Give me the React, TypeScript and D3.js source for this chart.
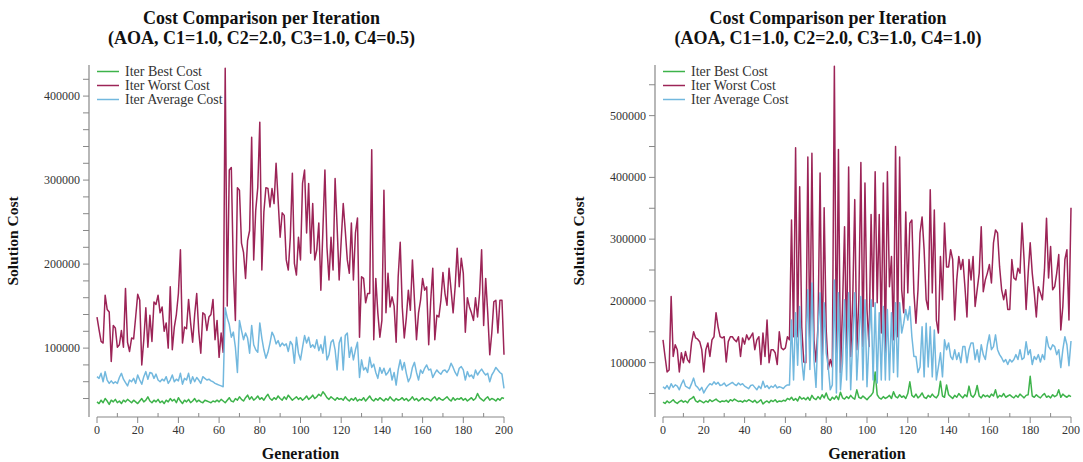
import React from 'react';
import * as d3 from 'd3';

// ---------------- DATA (values in thousands) ----------------
const generationTicks = [0, 20, 40, 60, 80, 100, 120, 140, 160, 180, 200];

// Left panel: C4 = 0.5
const bestA = [
  36, 34, 38, 35, 40, 37, 33, 38, 36, 39,
  35, 37, 34, 38, 36, 39, 37, 35, 38, 36,
  34, 37, 40, 36, 38, 42, 37, 35, 38, 36,
  39, 35, 37, 34, 38, 36, 40, 37, 39, 35,
  41, 37, 34, 38, 36, 39, 35, 37, 40, 36,
  38, 36, 35, 38, 37, 36, 35, 37, 36, 38,
  36, 39, 37, 35, 38, 41, 37, 36, 40, 38,
  42, 39, 37, 41, 44, 39, 42, 38, 40, 43,
  39, 41, 38, 42, 45, 40, 38, 41, 39, 43,
  40, 38, 42, 39, 44, 41, 38, 40, 42, 39,
  41, 38, 40, 43, 39, 41, 44, 40, 42, 45,
  43, 48, 45, 41, 39, 42, 40, 38, 41, 39,
  40, 38, 42, 39, 37, 40, 38, 41, 37, 39,
  38, 41, 37, 40, 43, 39, 37, 40, 38, 41,
  39, 37, 40, 38, 42, 39, 37, 40, 38, 39,
  41, 38, 40, 37, 39, 42, 38, 40, 37, 39,
  41, 38, 40, 39, 37, 40, 42, 38, 41, 39,
  38, 40, 42, 39, 37, 41, 38, 40, 39, 41,
  38, 40, 37, 39, 41, 38, 40, 46, 41, 39,
  37, 40, 42, 38, 40, 39, 37, 40, 38, 41,
  40,
];
const worstA = [
  137, 122, 108, 106, 163, 146, 143, 84, 127, 124,
  101, 104, 121, 101, 171, 107, 96, 112, 111, 137,
  164, 157, 80, 110, 148, 101, 139, 108, 155, 152,
  163, 142, 149, 120, 130, 100, 173, 98, 125, 140,
  165, 217, 106, 125, 123, 158, 130, 107, 140, 165,
  120, 94, 142, 140, 121, 137, 140, 158, 110, 133,
  89, 118, 95, 433, 150, 312, 315, 193, 133, 291,
  288, 225, 214, 183, 228, 240, 351, 205, 264, 291,
  369, 193, 262, 291, 290, 268, 290, 272, 320, 276,
  232, 261, 258, 205, 193, 232, 308, 201, 187, 232,
  205, 296, 312, 237, 296, 213, 272, 205, 217, 249,
  169, 240, 312, 220, 181, 232, 193, 302, 244, 181,
  228, 272, 240, 205, 189, 249, 181, 237, 255, 113,
  185, 183, 154, 165, 165, 336, 110, 183, 142, 113,
  133, 288, 142, 189, 149, 161, 150, 107, 185, 226,
  149, 112, 136, 169, 145, 205, 157, 110, 142, 157,
  183, 169, 173, 104, 157, 195, 110, 139, 137, 157,
  190, 165, 151, 195, 169, 142, 173, 219, 173, 207,
  189, 119, 160, 149, 142, 133, 160, 137, 165, 217,
  127, 183, 142, 92, 118, 155, 157, 118, 157, 157,
  92,
];
const avgA = [
  66, 64, 70, 60, 72, 62, 58, 61, 58, 60,
  58, 65, 70, 63, 59, 55, 62, 60, 64, 58,
  68, 62, 57, 66, 72, 63, 71, 70, 64, 69,
  62, 60, 63, 61, 66, 58, 62, 68, 60, 63,
  61, 70, 57, 64, 62, 70, 58, 66, 60, 65,
  62, 58, 66, 64, 62, 63, 61, 60, 58, 57,
  56, 55, 54, 148, 136, 128, 113, 119, 101, 71,
  133, 121, 110, 118, 112, 94, 127, 104, 98, 95,
  130, 112, 98, 88, 95, 106, 119, 114, 105, 109,
  102, 106, 103, 105, 96, 108, 104, 82, 113, 94,
  86, 101, 115, 106, 113, 101, 104, 100, 110, 97,
  104, 94, 114, 86, 92, 107, 110, 98, 74, 106,
  113, 74, 115, 118, 89, 101, 86, 98, 107, 65,
  86, 74, 77, 71, 89, 77, 81, 71, 64, 77,
  70, 76, 68, 71, 76, 62, 71, 56, 74, 86,
  74, 83, 70, 60, 65, 77, 83, 71, 62, 74,
  70, 76, 80, 74, 75, 65, 70, 74, 71, 69,
  73, 74, 71, 75, 82, 77, 71, 67, 76, 78,
  74, 62, 72, 66, 68, 64, 74, 68, 72, 75,
  71, 68, 70, 60, 68, 72, 77, 74, 71, 69,
  52,
];

// Right panel: C4 = 1.0
const bestB = [
  36, 34, 38, 35, 37, 40, 36, 34, 37, 39,
  36, 38, 35, 40, 42, 45, 38, 36, 39, 37,
  35, 38, 36, 40, 37, 39, 41, 38, 36, 38,
  37, 39, 36, 40, 38, 41, 39, 37, 38, 36,
  39, 37, 40, 38, 36, 39, 35, 37, 40, 33,
  36, 38, 35, 39, 37, 40, 36, 38, 37, 39,
  38, 42, 40, 44, 39, 42, 38, 45, 41, 43,
  40, 44, 39, 47, 42, 40, 45, 41, 48, 43,
  51, 42, 39, 44, 41, 46, 40, 52, 43, 41,
  45, 42, 47, 43, 41, 56, 44, 42, 46, 43,
  40, 44, 47, 52, 85, 48, 43, 41, 45, 42,
  44, 47, 42, 53, 45, 43, 48, 44, 46, 42,
  50, 69, 47, 44, 49, 43, 46, 51, 44, 42,
  47, 44, 49, 45, 43, 48, 70, 46, 44, 64,
  48, 45, 42, 47, 44, 50, 46, 43, 48, 45,
  62, 47, 44, 49, 63, 46, 43, 48, 45, 47,
  44, 49, 46, 56, 43, 47, 45, 50, 44, 46,
  48, 45, 43, 47, 44, 49, 46, 43, 47, 48,
  78, 46, 44, 48, 45, 43, 47, 50, 44, 46,
  43, 48, 45, 47, 56, 44, 49, 46, 44, 47,
  45,
];
const worstB = [
  137, 110, 85, 88, 207, 110, 129, 121, 85, 116,
  100, 118, 105, 100, 132, 150, 140, 138, 134, 121,
  85, 121, 132, 110, 137, 142, 181, 158, 142, 140,
  142, 101, 134, 142, 142, 137, 134, 142, 110, 140,
  130, 145, 137, 142, 148, 121, 137, 142, 97, 148,
  110, 169, 100, 121, 121, 116, 97, 150, 124, 121,
  124, 142, 137, 331, 142, 448, 142, 385, 158, 101,
  100, 433, 116, 439, 137, 101, 161, 407, 100, 351,
  153, 89, 105, 93, 580, 105, 445, 84, 191, 320,
  121, 417, 110, 202, 364, 121, 202, 424, 126, 391,
  186, 126, 340, 191, 409, 197, 340, 148, 391, 110,
  409, 223, 272, 137, 450, 142, 433, 218, 181, 344,
  213, 326, 331, 213, 164, 218, 310, 336, 283, 202,
  186, 380, 213, 347, 169, 148, 272, 202, 326, 255,
  255, 283, 267, 169, 234, 272, 251, 267, 223, 174,
  267, 234, 272, 191, 218, 245, 320, 215, 234, 245,
  259, 229, 294, 315, 310, 255, 218, 202, 218, 186,
  186, 267, 237, 234, 253, 245, 326, 267, 186, 245,
  294, 245, 213, 174, 223, 213, 202, 251, 334, 237,
  288, 218, 223, 245, 275, 153, 191, 267, 283, 169,
  351,
];
const avgB = [
  61, 58, 63, 57, 66, 60, 64, 62, 56, 65,
  72, 62, 60, 58, 66, 75, 63, 60, 55, 60,
  51, 57, 62, 66, 64, 69, 65, 68, 63, 64,
  67, 62, 64, 66, 68, 65, 63, 67, 64, 66,
  62, 60, 58, 63, 64, 60, 56, 62, 58, 70,
  60, 63, 58, 62, 60, 64, 59, 61, 60, 58,
  62, 64, 64, 169, 72, 181, 96, 191, 105, 72,
  116, 218, 89, 229, 105, 60, 153, 213, 56, 197,
  116, 93, 56, 64, 234, 51, 213, 56, 100, 202,
  72, 213, 56, 137, 213, 72, 137, 207, 72, 202,
  61, 137, 202, 72, 197, 67, 181, 72, 191, 72,
  186, 72, 181, 84, 197, 77, 197, 148, 164, 186,
  169, 191, 142, 110, 110, 84, 93, 158, 77, 164,
  93, 158, 77, 153, 72, 93, 116, 77, 137, 121,
  132, 110, 105, 121, 105, 116, 100, 126, 126, 100,
  121, 132, 132, 105, 121, 101, 129, 113, 105, 129,
  145, 121, 126, 145, 121, 113, 108, 101, 105, 97,
  105, 101, 105, 113, 105, 121, 105, 108, 134, 113,
  121, 97, 110, 105, 113, 101, 113, 105, 142, 126,
  121, 129, 126, 113, 121, 92, 121, 142, 129, 95,
  135,
];

const yMinorA = [40000, 60000, 80000, 100000, 120000, 140000, 160000, 180000, 200000, 220000, 240000, 260000, 280000, 300000, 320000, 340000, 360000, 380000, 400000, 420000];
const yLabelsA = [100000, 200000, 300000, 400000];
const yMinorB = [50000, 100000, 150000, 200000, 250000, 300000, 350000, 400000, 450000, 500000, 550000];
const yLabelsB = [100000, 200000, 300000, 400000, 500000];
const seriesNames = ['Iter Best Cost', 'Iter Worst Cost', 'Iter Average Cost'];

// ---------------- STYLE ----------------
const FONT = '"Liberation Serif", "Times New Roman", serif';
const COLORS = ['#3db34a', '#9c2457', '#72b8de'];
const AXIS = '#888';
const TXT = '#333';

type PanelProps = {
  x0: number; x1: number;
  yDomain: [number, number];
  title1: string; title2: string;
  best: number[]; worst: number[]; avg: number[];
  minor: number[]; labels: number[];
};

function Panel({ x0, x1, yDomain, title1, title2, best, worst, avg, minor, labels }: PanelProps) {
  const top = 65, bottom = 417;
  const xs = d3.scaleLinear().domain([0, 200]).range([x0, x1]);
  const ys = d3.scaleLinear().domain(yDomain).range([bottom, top]);
  const axisX = x0 - 8;
  const line = d3.line<number>().x((_, i) => xs(i)).y(d => ys(d * 1000));
  const xTicks = d3.range(0, 201, 10);
  const cx = (x0 + x1) / 2;
  const series = [best, worst, avg];
  return (
    <g>
      <text x={cx - 39} y={24} textAnchor="middle" fontFamily={FONT} fontWeight="bold" fontSize={18} fill="#111">{title1}</text>
      <text x={cx - 39} y={44} textAnchor="middle" fontFamily={FONT} fontWeight="bold" fontSize={18} fill="#111">{title2}</text>
      {/* y axis */}
      <line x1={axisX} x2={axisX} y1={top} y2={bottom} stroke={AXIS} strokeWidth={1.2} />
      {minor.map(v => (
        <line key={v} x1={axisX - 6} x2={axisX} y1={ys(v)} y2={ys(v)} stroke={AXIS} strokeWidth={1} />
      ))}
      {labels.map(v => (
        <text key={'l' + v} x={axisX - 9} y={ys(v) + 4} textAnchor="end" fontFamily={FONT} fontSize={12} fill={TXT}>{v}</text>
      ))}
      <text transform={`translate(${axisX - 71},${241}) rotate(-90)`} textAnchor="middle" fontFamily={FONT} fontWeight="bold" fontSize={15.5} fill="#111">Solution Cost</text>
      {/* x axis */}
      <line x1={x0} x2={x1} y1={bottom} y2={bottom} stroke={AXIS} strokeWidth={1.2} />
      {xTicks.map(t => (
        <line key={'x' + t} x1={xs(t)} x2={xs(t)} y1={bottom} y2={t % 20 === 0 ? bottom + 6 : bottom - 4} stroke={AXIS} strokeWidth={1} />
      ))}
      {generationTicks.map(t => (
        <text key={'xl' + t} x={xs(t)} y={434} textAnchor="middle" fontFamily={FONT} fontSize={12} fill={TXT}>{t}</text>
      ))}
      <text x={cx} y={459} textAnchor="middle" fontFamily={FONT} fontWeight="bold" fontSize={16} fill="#111">Generation</text>
      {/* series */}
      {series.map((s, i) => (
        <path key={'s' + i} d={line(s) || ''} fill="none" stroke={COLORS[i]} strokeWidth={1.5} strokeLinejoin="round" />
      ))}
      {/* legend */}
      {seriesNames.map((n, i) => (
        <g key={'lg' + i}>
          <line x1={x0} x2={x0 + 22} y1={71.5 + i * 14} y2={71.5 + i * 14} stroke={COLORS[i]} strokeWidth={1.5} />
          <text x={x0 + 28} y={76 + i * 14} fontFamily={FONT} fontSize={14} fill={TXT}>{n}</text>
        </g>
      ))}
    </g>
  );
}

export default function App() {
  return (
    <svg width={1083} height={462} style={{ position: 'absolute', left: 0, top: 0, background: '#fff' }}>
      <Panel x0={97} x1={504} yDomain={[18000, 437000]}
        title1="Cost Comparison per Iteration" title2="(AOA, C1=1.0, C2=2.0, C3=1.0, C4=0.5)"
        best={bestA} worst={worstA} avg={avgA} minor={yMinorA} labels={yLabelsA} />
      <Panel x0={663} x1={1071} yDomain={[12000, 582000]}
        title1="Cost Comparison per Iteration" title2="(AOA, C1=1.0, C2=2.0, C3=1.0, C4=1.0)"
        best={bestB} worst={worstB} avg={avgB} minor={yMinorB} labels={yLabelsB} />
    </svg>
  );
}
